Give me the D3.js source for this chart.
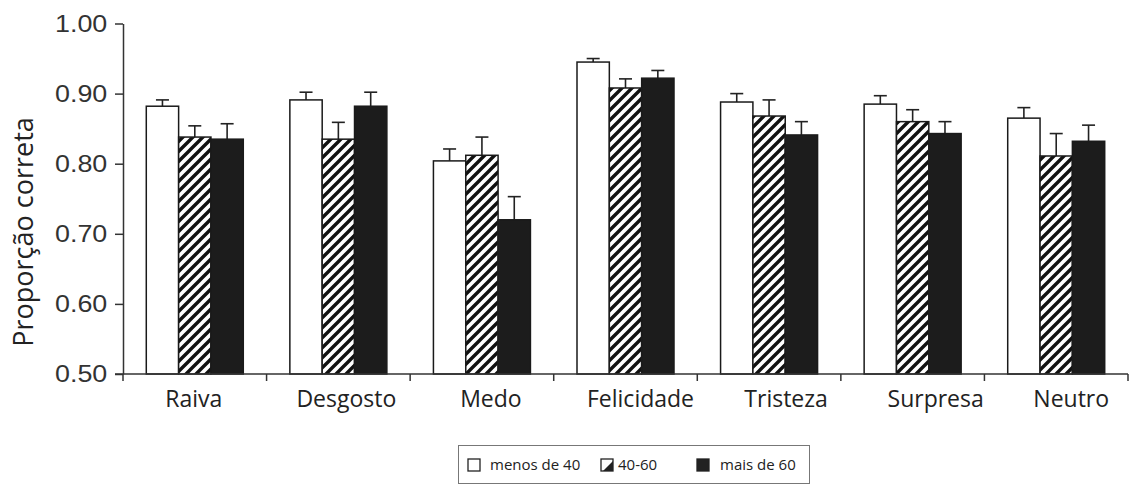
<!DOCTYPE html>
<html>
<head>
<meta charset="utf-8">
<script src="https://cdn.jsdelivr.net/npm/d3@7"></script>
<style>
  html, body { margin: 0; padding: 0; background: #fff; }
  svg { display: block; }
</style>
</head>
<body>
<svg id="chart" width="1130" height="490"></svg>
<script>
const categories = ["Raiva", "Desgosto", "Medo", "Felicidade", "Tristeza", "Surpresa", "Neutro"];
const series = ["menos de 40", "40-60", "mais de 60"];
const menos40 = [0.882, 0.891, 0.804, 0.945, 0.888, 0.885, 0.865];
const de40a60 = [0.838, 0.835, 0.812, 0.908, 0.868, 0.860, 0.811];
const mais60 = [0.835, 0.882, 0.720, 0.922, 0.841, 0.843, 0.832];
const errMenos40 = [0.009, 0.011, 0.017, 0.005, 0.012, 0.012, 0.015];
const err40a60 = [0.016, 0.024, 0.026, 0.013, 0.023, 0.017, 0.032];
const errMais60 = [0.022, 0.020, 0.033, 0.011, 0.019, 0.017, 0.023];
const yTicks = [0.50, 0.60, 0.70, 0.80, 0.90, 1.00];
const yTitle = "Proporção correta";

const values = [menos40, de40a60, mais60];
const errors = [errMenos40, err40a60, errMais60];

const svg = d3.select("#chart");
const defs = svg.append("defs");
const pat = defs.append("pattern").attr("id", "hatch")
  .attr("patternUnits", "userSpaceOnUse").attr("width", 10).attr("height", 10);
pat.append("rect").attr("width", 10).attr("height", 10).attr("fill", "#fff");
pat.append("path").attr("d", "M-2,2 L2,-2 M0,10 L10,0 M8,12 L12,8")
  .attr("stroke", "#111").attr("stroke-width", 3.4);

const fills = ["#fff", "url(#hatch)", "#1c1c1c"];

const x0 = 123, x1e = 1128, yTop = 23.5, yBot = 374;
const x = d3.scaleBand().domain(categories).range([x0, x1e]).padding(0);
const groupW = 97;
const xs = d3.scaleBand().domain(series)
  .range([(x.bandwidth() - groupW) / 2, (x.bandwidth() + groupW) / 2]).padding(0);
const y = d3.scaleLinear().domain([0.5, 1.0]).range([yBot, yTop]);

const rows = [];
categories.forEach((c, i) => series.forEach((s, j) => rows.push({c, s, j, v: values[j][i], e: errors[j][i]})));

// error bars
const eg = svg.append("g");
rows.forEach(r => {
  const cx = x(r.c) + xs(r.s) + xs.bandwidth() / 2;
  eg.append("line").attr("x1", cx).attr("x2", cx)
    .attr("y1", y(r.v)).attr("y2", y(r.v + r.e))
    .attr("stroke", "#222").attr("stroke-width", 1.6);
  eg.append("line").attr("x1", cx - 6.5).attr("x2", cx + 6.5)
    .attr("y1", y(r.v + r.e)).attr("y2", y(r.v + r.e))
    .attr("stroke", "#222").attr("stroke-width", 1.6);
});

svg.append("g").selectAll("rect").data(rows).join("rect")
  .attr("x", d => x(d.c) + xs(d.s))
  .attr("y", d => y(d.v))
  .attr("width", xs.bandwidth())
  .attr("height", d => y(0.5) - y(d.v))
  .attr("fill", d => fills[d.j])
  .attr("stroke", "#1a1a1a").attr("stroke-width", 1.5);

// y axis
const ya = svg.append("g").attr("transform", `translate(${x0},0)`)
  .call(d3.axisLeft(y).tickValues(yTicks).tickFormat(d3.format(".2f")).tickSize(8).tickSizeOuter(0));
ya.select(".domain").attr("stroke", "#333").attr("stroke-width", 1.5);
ya.selectAll(".tick line").attr("stroke", "#333").attr("stroke-width", 1.5);
ya.selectAll(".tick text").attr("x", -14)
  .attr("font-family", "Liberation Sans, Arial, sans-serif").attr("font-size", 24)
  .attr("fill", "#333").attr("transform", "scale(1.12,1)");

// x axis
svg.append("line").attr("x1", 115).attr("x2", x1e).attr("y1", yBot).attr("y2", yBot)
  .attr("stroke", "#333").attr("stroke-width", 1.5);
const bounds = categories.map(c => x(c)).concat([x1e]);
svg.append("g").selectAll("line").data(bounds).join("line")
  .attr("x1", d => d).attr("x2", d => d).attr("y1", yBot).attr("y2", yBot + 7)
  .attr("stroke", "#333").attr("stroke-width", 1.5);
// label horizontal nudges (layout only)
const labelShift = [-1, 8, 9, 15, 17, 23, 15];
const xa = svg.append("g").attr("transform", `translate(0,${yBot})`)
  .call(d3.axisBottom(x).tickSize(0).tickPadding(0));
xa.select(".domain").remove();
xa.selectAll(".tick text").attr("y", 33).attr("dy", 0)
  .attr("x", (d, i) => labelShift[i])
  .attr("font-family", "Open Sans, sans-serif").attr("font-size", 23).attr("fill", "#222");

// y title
svg.append("text").attr("transform", "translate(33,232) rotate(-90)")
  .attr("text-anchor", "middle").attr("font-family", "Open Sans, sans-serif")
  .attr("font-size", 27).attr("fill", "#222").text(yTitle);

// legend
const lg = svg.append("g");
lg.append("rect").attr("x", 458.5).attr("y", 445.5).attr("width", 351).attr("height", 38)
  .attr("fill", "#fff").attr("stroke", "#777").attr("stroke-width", 1);
const legX = [468, 601, 697];
const legTextDx = [22, 17, 23];
series.forEach((s, j) => {
  const gx = legX[j], gy = 459;
  const item = lg.append("g").attr("transform", `translate(${gx},${gy})`);
  if (j === 1) {
    item.append("rect").attr("width", 12).attr("height", 12).attr("fill", "#fff")
      .attr("stroke", "#222").attr("stroke-width", 1.3);
    item.append("path").attr("d", "M12,2 L12,12 L2,12 Z").attr("fill", "#222");
  } else {
    item.append("rect").attr("width", 12).attr("height", 12).attr("fill", j === 0 ? "#fff" : "#222")
      .attr("stroke", "#222").attr("stroke-width", 1.3);
  }
  item.append("text").attr("x", legTextDx[j]).attr("y", 11)
    .attr("font-family", "Open Sans, sans-serif").attr("font-size", 15).attr("fill", "#222").text(s);
});
</script>
</body>
</html>
